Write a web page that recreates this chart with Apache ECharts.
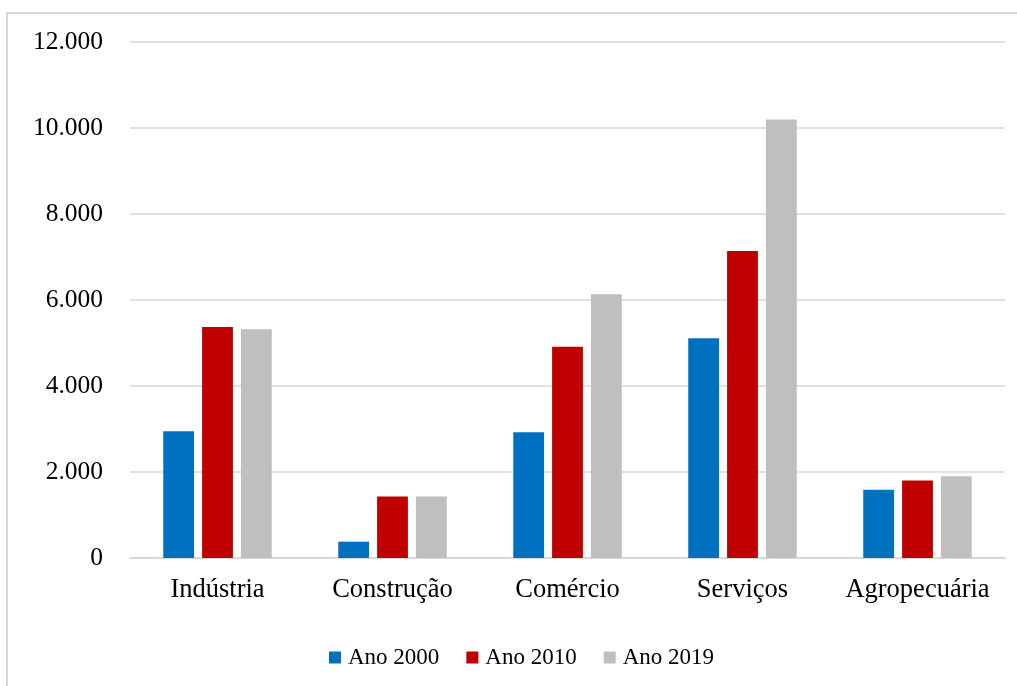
<!DOCTYPE html>
<html>
<head>
<meta charset="utf-8">
<script src="https://cdn.jsdelivr.net/npm/echarts@6/dist/echarts.min.js"></script>
<style>
html,body{margin:0;padding:0;background:#fff;}
#chart{width:1017px;height:686px;}
</style>
</head>
<body>
<div id="chart"></div>
<script>
const categories = ['Indústria', 'Construção', 'Comércio', 'Serviços', 'Agropecuária'];
const seriesNames = ['Ano 2000', 'Ano 2010', 'Ano 2019'];
const ano2000 = [2950, 380, 2925, 5110, 1590];
const ano2010 = [5375, 1430, 4915, 7140, 1800];
const ano2019 = [5320, 1430, 6135, 10200, 1900];
const colors = ['#0070C0', '#C00000', '#BFBFBF'];
const yTicks = { min: 0, max: 12000, interval: 2000 };

const chart = echarts.init(document.getElementById('chart'));
const font = '"Liberation Serif", "Times New Roman", serif';
const seriesData = [ano2000, ano2010, ano2019];
chart.setOption({
  animation: false,
  backgroundColor: '#fff',
  graphic: [{
    type: 'rect',
    shape: { x: 7, y: 13, width: 1030, height: 700 },
    style: { fill: 'none', stroke: '#d9d9d9', lineWidth: 2 },
    silent: true
  }],
  grid: { left: 130, right: 12, top: 42, bottom: 128, containLabel: false },
  legend: {
    top: 641,
    left: 324,
    itemWidth: 12,
    itemHeight: 12,
    itemGap: 27,
    icon: 'rect',
    textStyle: { fontFamily: font, fontSize: 23, color: '#000', padding: [0, 0, 0, 2] },
    data: seriesNames
  },
  xAxis: {
    type: 'category',
    data: categories,
    axisLine: { lineStyle: { color: '#d9d9d9', width: 2 } },
    axisTick: { show: false },
    axisLabel: { interval: 0, fontFamily: font, fontSize: 26.5, color: '#000', margin: 19 }
  },
  yAxis: {
    type: 'value',
    min: yTicks.min,
    max: yTicks.max,
    interval: yTicks.interval,
    axisLine: { show: false },
    axisTick: { show: false },
    splitLine: { lineStyle: { color: '#d9d9d9', width: 1.5 } },
    axisLabel: {
      fontFamily: font, fontSize: 25.5, color: '#000', margin: 27,
      formatter: v => v === 0 ? '0' : v.toLocaleString('pt-BR')
    }
  },
  series: seriesNames.map((n, i) => ({
    name: n,
    type: 'bar',
    data: seriesData[i],
    barGap: '26%',
    barCategoryGap: '38%',
    itemStyle: { color: colors[i] }
  }))
});
</script>
</body>
</html>
